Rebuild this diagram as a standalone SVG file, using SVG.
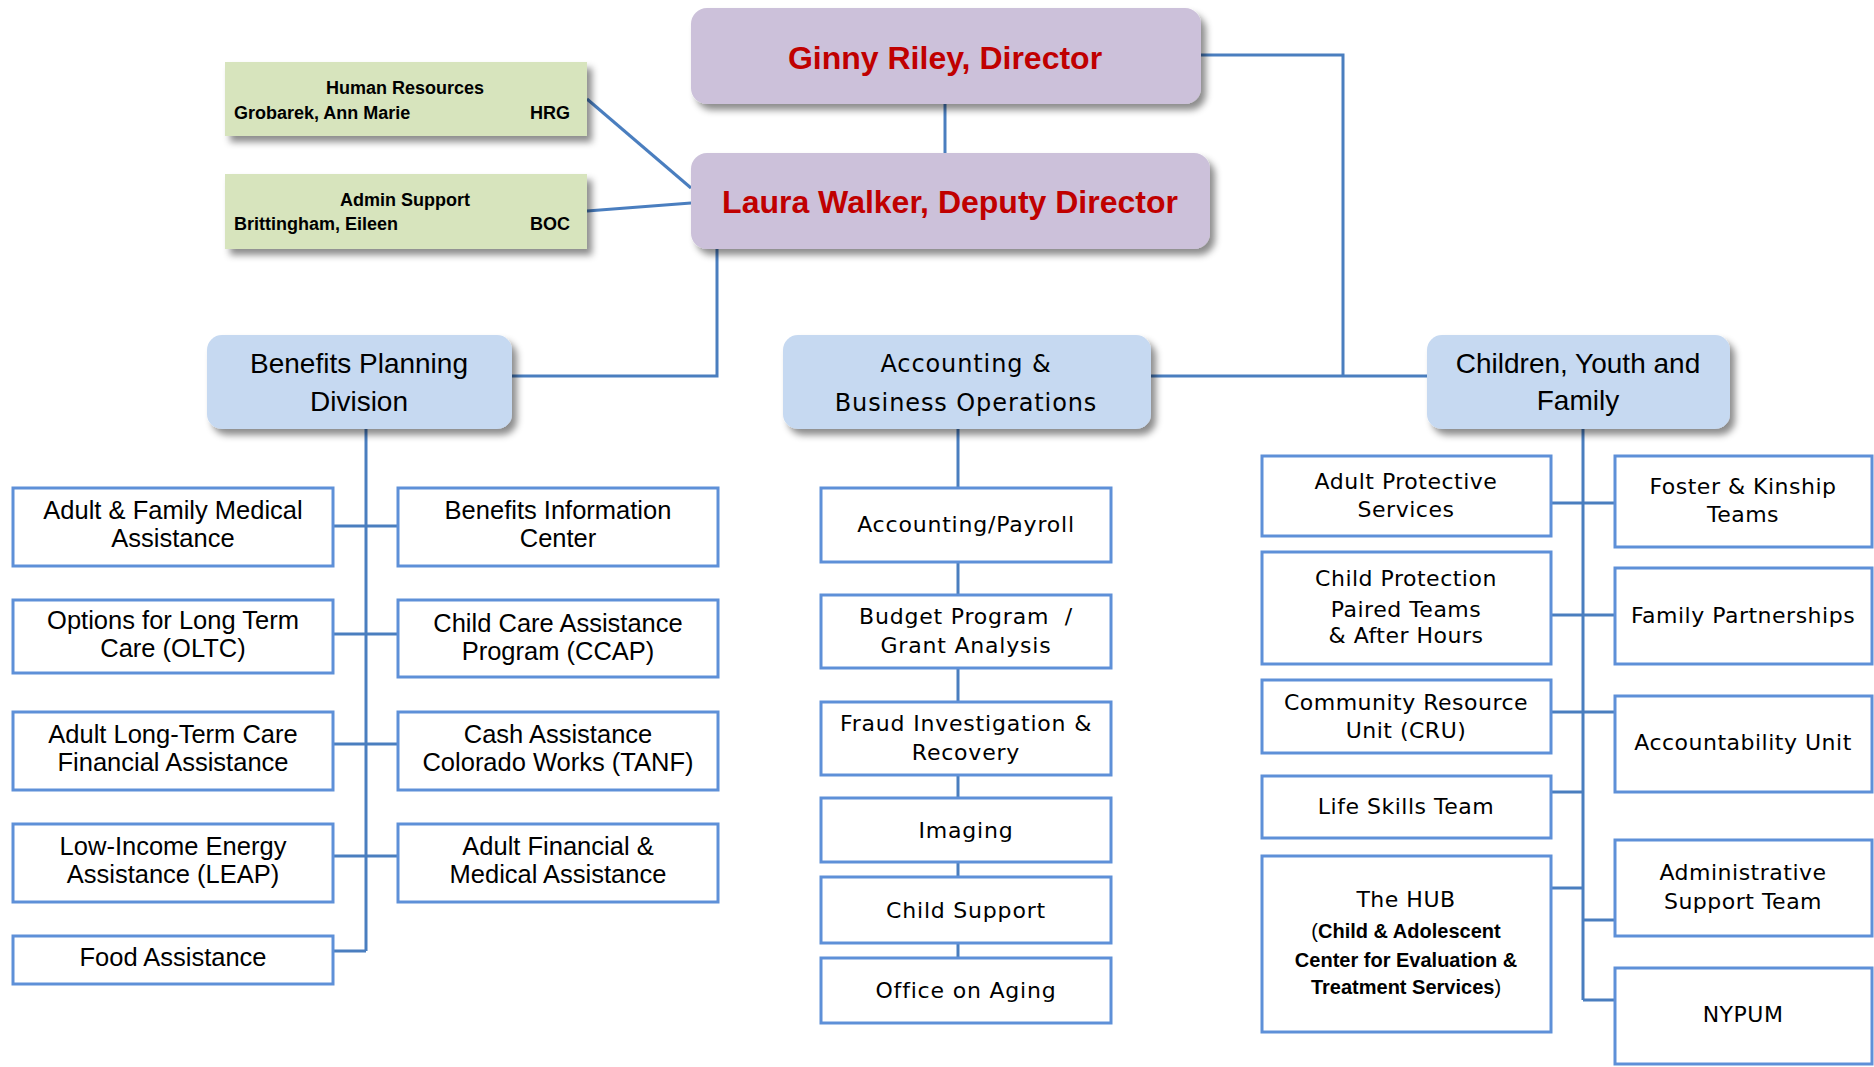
<svg xmlns="http://www.w3.org/2000/svg" width="1874" height="1067" viewBox="0 0 1874 1067">
<defs>
<filter id="sh" x="-10%" y="-10%" width="130%" height="140%">
<feDropShadow dx="5" dy="6" stdDeviation="3.5" flood-color="#000" flood-opacity="0.45"/>
</filter>
<style>
.lead{fill:#CCC1DA;filter:url(#sh)}
.green{fill:#D7E4BD;filter:url(#sh)}
.div{fill:#C6D9F1;filter:url(#sh)}
.box{fill:#fff;stroke:#5E90D8;stroke-width:3}
.conn{fill:none;stroke:#4A7EBF;stroke-width:3}
.red{font-family:"Liberation Sans",Arial,sans-serif;font-weight:bold;font-size:32px;fill:#C00000;text-anchor:middle}
.g{font-family:"Liberation Sans",Arial,sans-serif;font-weight:bold;font-size:18px;fill:#000}
.h{font-family:"Liberation Sans",Arial,sans-serif;font-size:28px;fill:#000;text-anchor:middle}
.hv{font-family:"DejaVu Sans",Verdana,sans-serif;font-size:24px;letter-spacing:0.9px;fill:#000;text-anchor:middle}
.b{font-family:"Liberation Sans",Arial,sans-serif;font-size:25.5px;fill:#000;text-anchor:middle}
.a{font-family:"DejaVu Sans",Verdana,sans-serif;font-size:22px;letter-spacing:0.8px;fill:#000;text-anchor:middle}
.c{font-family:"DejaVu Sans",Verdana,sans-serif;font-size:22px;letter-spacing:0.5px;fill:#000;text-anchor:middle}
.hb{font-family:"Liberation Sans",Arial,sans-serif;font-size:20px;font-weight:bold;fill:#000;text-anchor:middle}
.n{font-weight:normal}
</style>
</defs>
<rect width="1874" height="1067" fill="#fff"/>

<g id="connectors">
<path class="conn" d="M945 104 V153"/>
<path class="conn" d="M1201 55 H1343 V376"/>
<path class="conn" d="M717 249 V376 H512"/>
<path class="conn" d="M1151 376 H1427"/>
<path class="conn" d="M587 99 L691 188"/>
<path class="conn" d="M587 211 L691 203"/>
<path class="conn" d="M366 429 V951"/>
<path class="conn" d="M333 526 H398 M333 634 H398 M333 744 H398 M333 856 H398 M333 951 H366"/>
<path class="conn" d="M958 429 V958"/>
<path class="conn" d="M1583 429 V1000"/>
<path class="conn" d="M1551 503 H1615 M1551 615 H1615 M1551 712 H1615 M1551 792 H1583 M1551 888 H1583 M1583 920 H1615 M1583 1000 H1615"/>
</g>

<g id="director">
<rect class="lead" x="691" y="8" width="510" height="96" rx="16"/>
<text class="red" x="945" y="69">Ginny Riley, Director</text>
</g>
<g id="deputy">
<rect class="lead" x="691" y="153" width="519" height="96" rx="16"/>
<text class="red" x="950" y="213">Laura Walker, Deputy Director</text>
</g>
<g id="hr">
<rect class="green" x="225" y="62" width="362" height="74"/>
<text class="g" x="405" y="94" text-anchor="middle">Human Resources</text>
<text class="g" x="234" y="119">Grobarek, Ann Marie</text>
<text class="g" x="570" y="119" text-anchor="end">HRG</text>
</g>
<g id="admin">
<rect class="green" x="225" y="174" width="362" height="75"/>
<text class="g" x="405" y="206" text-anchor="middle">Admin Support</text>
<text class="g" x="234" y="230">Brittingham, Eileen</text>
<text class="g" x="570" y="230" text-anchor="end">BOC</text>
</g>

<g id="benefits">
<rect class="div" x="207" y="335" width="305" height="94" rx="15"/>
<text class="h" x="359" y="373">Benefits Planning</text>
<text class="h" x="359" y="411">Division</text>
</g>
<g id="accounting">
<rect class="div" x="783" y="335" width="368" height="94" rx="15"/>
<text class="hv" x="966" y="372">Accounting &amp;</text>
<text class="hv" x="966" y="411">Business Operations</text>
</g>
<g id="children">
<rect class="div" x="1427" y="335" width="303" height="94" rx="15"/>
<text class="h" x="1578" y="373">Children, Youth and</text>
<text class="h" x="1578" y="410">Family</text>
</g>

<g id="b-afma"><rect class="box" x="13" y="488" width="320" height="78"/>
<text class="b" x="173" y="519">Adult &amp; Family Medical</text><text class="b" x="173" y="547">Assistance</text></g>
<g id="b-bic"><rect class="box" x="398" y="488" width="320" height="78"/>
<text class="b" x="558" y="519">Benefits Information</text><text class="b" x="558" y="547">Center</text></g>
<g id="b-oltc"><rect class="box" x="13" y="600" width="320" height="73"/>
<text class="b" x="173" y="629">Options for Long Term</text><text class="b" x="173" y="657">Care (OLTC)</text></g>
<g id="b-ccap"><rect class="box" x="398" y="600" width="320" height="77"/>
<text class="b" x="558" y="632">Child Care Assistance</text><text class="b" x="558" y="660">Program (CCAP)</text></g>
<g id="b-altc"><rect class="box" x="13" y="712" width="320" height="78"/>
<text class="b" x="173" y="743">Adult Long-Term Care</text><text class="b" x="173" y="771">Financial Assistance</text></g>
<g id="b-tanf"><rect class="box" x="398" y="712" width="320" height="78"/>
<text class="b" x="558" y="743">Cash Assistance</text><text class="b" x="558" y="771">Colorado Works (TANF)</text></g>
<g id="b-leap"><rect class="box" x="13" y="824" width="320" height="78"/>
<text class="b" x="173" y="855">Low-Income Energy</text><text class="b" x="173" y="883">Assistance (LEAP)</text></g>
<g id="b-afmed"><rect class="box" x="398" y="824" width="320" height="78"/>
<text class="b" x="558" y="855">Adult Financial &amp;</text><text class="b" x="558" y="883">Medical Assistance</text></g>
<g id="b-food"><rect class="box" x="13" y="936" width="320" height="48"/>
<text class="b" x="173" y="966">Food Assistance</text></g>

<g id="a-payroll"><rect class="box" x="821" y="488" width="290" height="74"/>
<text class="a" x="966" y="532">Accounting/Payroll</text></g>
<g id="a-budget"><rect class="box" x="821" y="595" width="290" height="73"/>
<text class="a" x="966" y="624" xml:space="preserve">Budget Program  /</text><text class="a" x="966" y="653">Grant Analysis</text></g>
<g id="a-fraud"><rect class="box" x="821" y="702" width="290" height="73"/>
<text class="a" x="966" y="731">Fraud Investigation &amp;</text><text class="a" x="966" y="760">Recovery</text></g>
<g id="a-imaging"><rect class="box" x="821" y="798" width="290" height="64"/>
<text class="a" x="966" y="838">Imaging</text></g>
<g id="a-childsupport"><rect class="box" x="821" y="877" width="290" height="66"/>
<text class="a" x="966" y="918">Child Support</text></g>
<g id="a-aging"><rect class="box" x="821" y="958" width="290" height="65"/>
<text class="a" x="966" y="998">Office on Aging</text></g>

<g id="c-aps"><rect class="box" x="1262" y="456" width="289" height="80"/>
<text class="c" x="1406" y="489">Adult Protective</text><text class="c" x="1406" y="517">Services</text></g>
<g id="c-cp"><rect class="box" x="1262" y="552" width="289" height="112"/>
<text class="c" x="1406" y="586">Child Protection</text><text class="c" x="1406" y="617">Paired Teams</text><text class="c" x="1406" y="643">&amp; After Hours</text></g>
<g id="c-cru"><rect class="box" x="1262" y="680" width="289" height="73"/>
<text class="c" x="1406" y="710">Community Resource</text><text class="c" x="1406" y="738">Unit (CRU)</text></g>
<g id="c-life"><rect class="box" x="1262" y="776" width="289" height="62"/>
<text class="c" x="1406" y="814">Life Skills Team</text></g>
<g id="c-hub"><rect class="box" x="1262" y="856" width="289" height="176"/>
<text class="c" x="1406" y="907">The HUB</text>
<text class="hb" x="1406" y="938"><tspan class="n">(</tspan>Child &amp; Adolescent</text>
<text class="hb" x="1406" y="967">Center for Evaluation &amp;</text>
<text class="hb" x="1406" y="994">Treatment Services<tspan class="n">)</tspan></text></g>
<g id="c-foster"><rect class="box" x="1615" y="456" width="257" height="91"/>
<text class="c" x="1743" y="494">Foster &amp; Kinship</text><text class="c" x="1743" y="522">Teams</text></g>
<g id="c-family"><rect class="box" x="1615" y="568" width="257" height="96"/>
<text class="c" x="1743" y="623">Family Partnerships</text></g>
<g id="c-account"><rect class="box" x="1615" y="696" width="257" height="96"/>
<text class="c" x="1743" y="750">Accountability Unit</text></g>
<g id="c-admin"><rect class="box" x="1615" y="840" width="257" height="96"/>
<text class="c" x="1743" y="880">Administrative</text><text class="c" x="1743" y="909">Support Team</text></g>
<g id="c-nypum"><rect class="box" x="1615" y="968" width="257" height="96"/>
<text class="c" x="1743" y="1022">NYPUM</text></g>
</svg>
